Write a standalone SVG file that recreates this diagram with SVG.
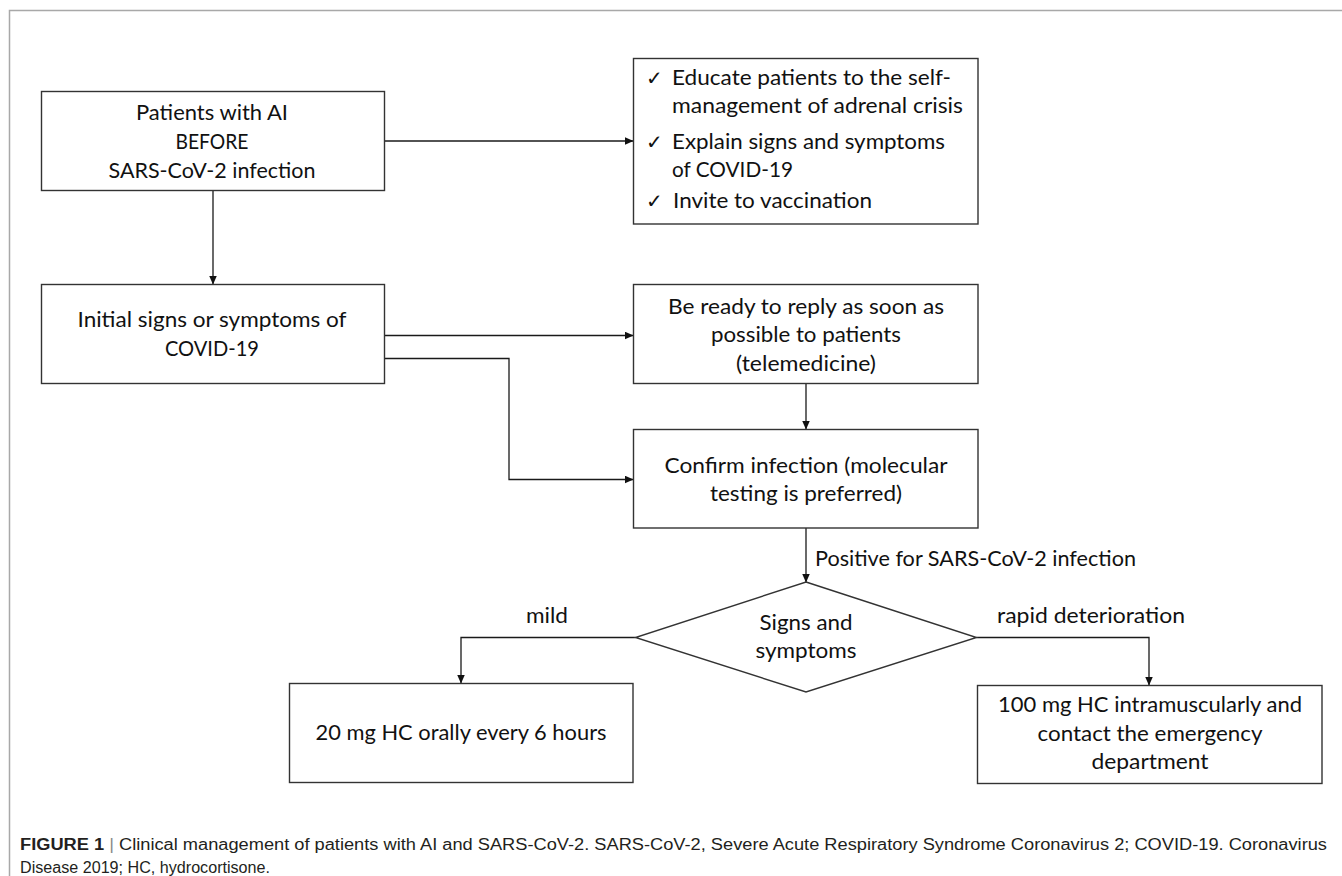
<svg xmlns="http://www.w3.org/2000/svg" width="1342" height="876" viewBox="0 0 1342 876">
  <defs>
    <marker id="arrow" markerWidth="9" markerHeight="8" refX="8.5" refY="4" orient="auto" markerUnits="userSpaceOnUse">
      <path d="M0,0 L9,4 L0,8 z" fill="#111"/>
    </marker>
    <style>
      .box { fill: #ffffff; stroke: #333333; stroke-width: 1.4; }
      .conn { fill: none; stroke: #1a1a1a; stroke-width: 1.3; }
      .t { font-family: Lato, "Liberation Sans", sans-serif; font-size: 22px; fill: #111111; }
      .c { text-anchor: middle; }
      .chk { font-family: "DejaVu Sans", sans-serif; font-size: 20px; fill: #111111; }
      .cap { font-family: "Liberation Sans", Arial, sans-serif; font-size: 16px; fill: #231f20; }
      .frame { stroke: #a8a8a8; stroke-width: 1.5; fill: none; }
    </style>
  </defs>
  <rect x="0" y="0" width="1342" height="876" fill="#ffffff"/>
  <path class="frame" d="M9.5,876 V10.5 H1342"/>

  <g id="connectors">
    <path class="conn" d="M384.5,141 H633" marker-end="url(#arrow)"/>
    <path class="conn" d="M213,191 V284" marker-end="url(#arrow)"/>
    <path class="conn" d="M384.5,335.5 H633" marker-end="url(#arrow)"/>
    <path class="conn" d="M384.5,358.5 H509 V479.5 H633" marker-end="url(#arrow)"/>
    <path class="conn" d="M806,383.5 V429" marker-end="url(#arrow)"/>
    <path class="conn" d="M806,528 V582" marker-end="url(#arrow)"/>
    <path class="conn" d="M635.5,637.5 H461 V683" marker-end="url(#arrow)"/>
    <path class="conn" d="M976.5,637.5 H1149 V685" marker-end="url(#arrow)"/>
    <text class="t" x="815" y="566" textLength="321" lengthAdjust="spacingAndGlyphs">Positive for SARS-CoV-2 infection</text>
    <text class="t" x="526" y="623" textLength="42" lengthAdjust="spacingAndGlyphs">mild</text>
    <text class="t" x="997" y="623" textLength="188" lengthAdjust="spacingAndGlyphs">rapid deterioration</text>
  </g>

  <g id="node-before">
    <rect class="box" x="41.5" y="91.5" width="343" height="99"/>
    <text class="t c" x="212" y="119.5" textLength="152" lengthAdjust="spacingAndGlyphs">Patients with AI</text>
    <text class="t c" x="212" y="149" textLength="73" lengthAdjust="spacingAndGlyphs">BEFORE</text>
    <text class="t c" x="212" y="178" textLength="207" lengthAdjust="spacingAndGlyphs">SARS-CoV-2 infection</text>
  </g>

  <g id="node-educate">
    <rect class="box" x="633.5" y="58.5" width="344.5" height="165.5"/>
    <text class="chk" x="646" y="85">✓</text>
    <text class="t" x="672" y="85" textLength="279" lengthAdjust="spacingAndGlyphs">Educate patients to the self-</text>
    <text class="t" x="672" y="113" textLength="291" lengthAdjust="spacingAndGlyphs">management of adrenal crisis</text>
    <text class="chk" x="646" y="149">✓</text>
    <text class="t" x="672" y="149" textLength="273" lengthAdjust="spacingAndGlyphs">Explain signs and symptoms</text>
    <text class="t" x="672" y="177" textLength="121" lengthAdjust="spacingAndGlyphs">of COVID-19</text>
    <text class="chk" x="646" y="208">✓</text>
    <text class="t" x="673" y="208" textLength="199" lengthAdjust="spacingAndGlyphs">Invite to vaccination</text>
  </g>

  <g id="node-initial">
    <rect class="box" x="41.5" y="284.5" width="343" height="99"/>
    <text class="t c" x="212" y="327" textLength="269" lengthAdjust="spacingAndGlyphs">Initial signs or symptoms of</text>
    <text class="t c" x="212" y="356" textLength="94" lengthAdjust="spacingAndGlyphs">COVID-19</text>
  </g>

  <g id="node-ready">
    <rect class="box" x="633.5" y="284.5" width="344.5" height="99"/>
    <text class="t c" x="806" y="314" textLength="276" lengthAdjust="spacingAndGlyphs">Be ready to reply as soon as</text>
    <text class="t c" x="806" y="342" textLength="190" lengthAdjust="spacingAndGlyphs">possible to patients</text>
    <text class="t c" x="806" y="370.5" textLength="140" lengthAdjust="spacingAndGlyphs">(telemedicine)</text>
  </g>

  <g id="node-confirm">
    <rect class="box" x="633.5" y="429.5" width="344.5" height="98.5"/>
    <text class="t c" x="806" y="472.5" textLength="283" lengthAdjust="spacingAndGlyphs">Confirm infection (molecular</text>
    <text class="t c" x="806" y="500.5" textLength="192" lengthAdjust="spacingAndGlyphs">testing is preferred)</text>
  </g>

  <g id="node-signs">
    <polygon class="box" points="806,582 976.5,637.5 806,692 635.5,637.5"/>
    <text class="t c" x="806" y="630" textLength="93" lengthAdjust="spacingAndGlyphs">Signs and</text>
    <text class="t c" x="806" y="658" textLength="101" lengthAdjust="spacingAndGlyphs">symptoms</text>
  </g>

  <g id="node-mild">
    <rect class="box" x="289.5" y="683.5" width="343.5" height="99"/>
    <text class="t c" x="461" y="740" textLength="291" lengthAdjust="spacingAndGlyphs">20 mg HC orally every 6 hours</text>
  </g>

  <g id="node-rapid">
    <rect class="box" x="977.5" y="685.5" width="344.5" height="98"/>
    <text class="t c" x="1150" y="712" textLength="304" lengthAdjust="spacingAndGlyphs">100 mg HC intramuscularly and</text>
    <text class="t c" x="1150" y="740.5" textLength="225" lengthAdjust="spacingAndGlyphs">contact the emergency</text>
    <text class="t c" x="1150" y="769" textLength="117" lengthAdjust="spacingAndGlyphs">department</text>
  </g>

  <g id="caption">
    <text class="cap" x="20" y="850" textLength="1307" lengthAdjust="spacingAndGlyphs"><tspan font-weight="bold">FIGURE 1</tspan> <tspan fill="#8a8a8a">|</tspan> Clinical management of patients with AI and SARS-CoV-2. SARS-CoV-2, Severe Acute Respiratory Syndrome Coronavirus 2; COVID-19. Coronavirus</text>
    <text class="cap" x="20" y="873" textLength="250" lengthAdjust="spacingAndGlyphs">Disease 2019; HC, hydrocortisone.</text>
  </g>
</svg>
